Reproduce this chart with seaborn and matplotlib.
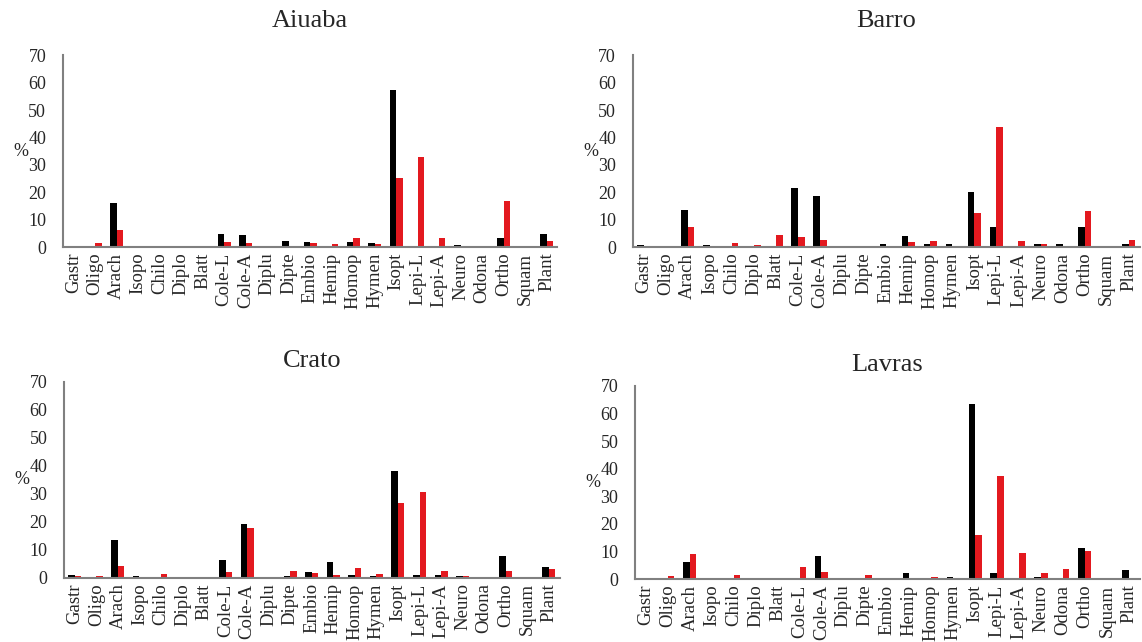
import matplotlib
matplotlib.use("Agg")
import matplotlib.pyplot as plt
import seaborn as sns
import pandas as pd

sns.set_style("white")
plt.rcParams["font.family"] = ["Liberation Serif", "DejaVu Serif"]

taxa = ["Gastr", "Oligo", "Arach", "Isopo", "Chilo", "Diplo", "Blatt",
        "Cole-L", "Cole-A", "Diplu", "Dipte", "Embio", "Hemip", "Homop",
        "Hymen", "Isopt", "Lepi-L", "Lepi-A", "Neuro", "Odona", "Ortho",
        "Squam", "Plant"]

# black series / red series, in %
aiuaba_k = [0.3, 0, 16.2, 0, 0, 0, 0, 4.7, 4.3, 0, 2.2, 1.8, 0.3, 1.8,
            1.5, 57.3, 0.3, 0.5, 0.7, 0, 3.4, 0, 4.8]
aiuaba_r = [0.3, 1.6, 6.3, 0, 0.3, 0, 0, 2.0, 1.6, 0, 0, 1.5, 1.2, 3.5,
            1.2, 25.2, 33.0, 3.4, 0.2, 0, 17.0, 0, 2.4]
barro_k = [0.7, 0, 13.5, 0.7, 0.3, 0, 0, 21.6, 18.5, 0, 0, 1.0, 4.2, 1.0,
           1.0, 20.3, 7.2, 0, 1.0, 1.0, 7.2, 0, 1.0]
barro_r = [0.4, 0, 7.5, 0, 1.5, 0.8, 4.5, 3.8, 2.5, 0, 0.3, 0.3, 1.8, 2.2,
           0.3, 12.6, 43.9, 2.2, 1.0, 0, 13.2, 0.3, 2.5]
crato_k = [1.0, 0, 13.4, 0.7, 0.3, 0, 0, 6.5, 19.4, 0, 0.5, 2.1, 5.5, 1.0,
           0.6, 38.3, 1.0, 1.0, 0.5, 0, 7.8, 0, 3.7]
crato_r = [0.8, 0.6, 4.2, 0.3, 1.3, 0.3, 0.3, 2.0, 17.8, 0, 2.5, 1.8, 1.0,
           3.4, 1.5, 26.6, 30.6, 2.4, 0.8, 0, 2.5, 0, 3.1]
lavras_k = [0.3, 0, 6.2, 0.3, 0.3, 0, 0.3, 0.3, 8.3, 0, 0.3, 0.3, 2.2, 0.3,
            0.6, 63.5, 2.2, 0.2, 0.7, 0, 11.3, 0, 3.2]
lavras_r = [0.3, 1.2, 9.0, 0.3, 1.5, 0, 0, 4.2, 2.6, 0.3, 1.5, 0.3, 0.2,
            0.6, 0.3, 16.0, 37.3, 9.4, 2.3, 3.6, 10.0, 0, 0.3]

panels = [
    ("Aiuaba", aiuaba_k, aiuaba_r, [0.055, 0.615, 0.433, 0.299], 20),
    ("Barro", barro_k, barro_r, [0.554, 0.615, 0.444, 0.299], 20),
    ("Crato", crato_k, crato_r, [0.056, 0.100, 0.434, 0.305], 11),
    ("Lavras", lavras_k, lavras_r, [0.556, 0.098, 0.442, 0.301], 11),
]

fig = plt.figure(figsize=(11.42, 6.42), dpi=100)
for name, k, r, box, pad in panels:
    ax = fig.add_axes(box)
    df = pd.DataFrame({
        "taxon": taxa * 2,
        "pct": k + r,
        "serie": ["a"] * len(taxa) + ["b"] * len(taxa),
    })
    sns.barplot(data=df, x="taxon", y="pct", hue="serie",
                palette=["#000000", "#e3191f"], saturation=1, width=0.6,
                gap=0, legend=False, ax=ax, linewidth=0)
    ax.set_ylim(0, 70)
    ax.set_yticks(range(0, 71, 10))
    ax.set_xlim(-0.5, len(taxa) - 0.5)
    ax.set_title(name, fontsize=19, pad=pad)
    ax.set_xlabel("")
    ax.set_ylabel("%", rotation=0, fontsize=13, labelpad=5, va="center")
    ax.tick_params(axis="y", direction="in", length=3, width=1,
                   color="#808080", labelsize=13, pad=12)
    ax.tick_params(axis="x", length=0, labelsize=13.5, rotation=90, pad=4)
    for side in ["top", "right"]:
        ax.spines[side].set_visible(False)
    for side in ["left", "bottom"]:
        ax.spines[side].set_color("#808080")
        ax.spines[side].set_linewidth(1.5)

plt.savefig("out.png", dpi=100)
